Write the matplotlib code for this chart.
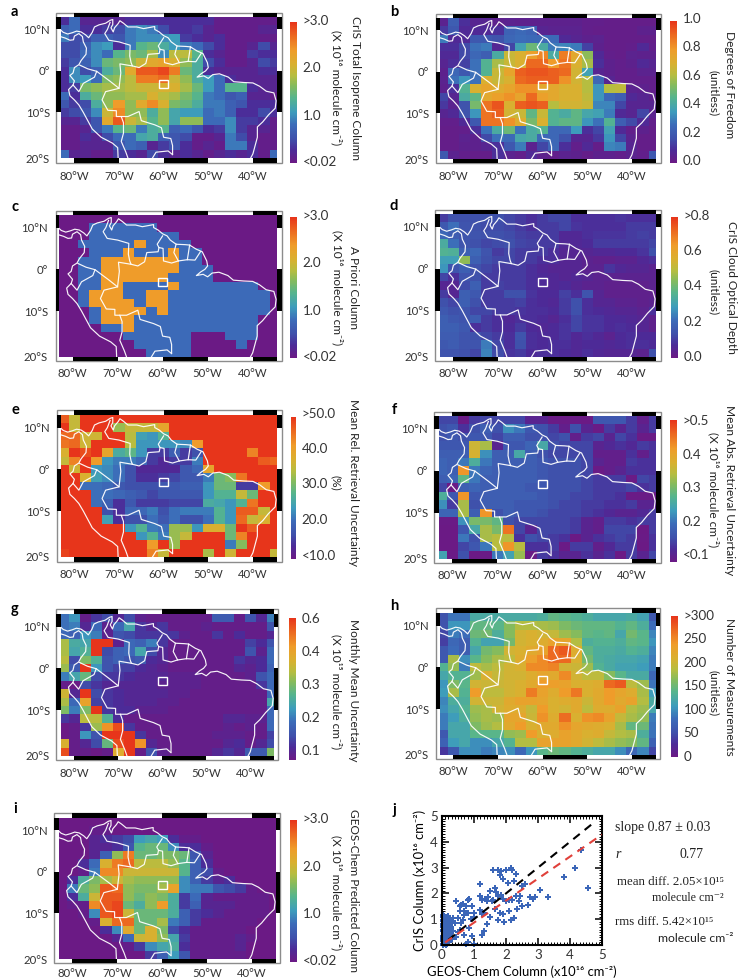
import numpy as np
import matplotlib
matplotlib.use("Agg")
import matplotlib.pyplot as plt
from matplotlib.colors import LinearSegmentedColormap, Normalize
from matplotlib.patches import Rectangle
from matplotlib.ticker import MultipleLocator
from matplotlib.transforms import ScaledTranslation

plt.rcParams['font.family'] = ['Lato', 'DejaVu Sans']
plt.rcParams['text.color'] = '#222222'

W, H = 741, 980

# ---- gridded values, north to south, west to east ----
lon_edges = -83.75 + 2.5 * np.arange(21)
lat_edges = 13 - 2.0 * np.arange(18)

panel_a = [  # 1e15 molecule cm-2
 [3,8,2,2,2,2,3,3,3,3,3,3,3,3,1,1,1,1,1,1],
 [7,8,3,3,4,5,9,10,9,5,3,3,4,2,1,1,1,1,2,2],
 [9,5,5,7,7,6,9,10,10,10,11,4,3,2,3,1,1,1,1,1],
 [5,5,7,10,11,3,9,14,15,13,11,9,8,5,3,1,1,2,5,2],
 [5,5,8,10,8,14,16,15,18,10,19,19,14,3,2,1,1,4,3,3],
 [4,6,7,10,15,16,17,20,22,23,21,17,13,5,3,1,1,2,5,4],
 [3,10,5,7,13,15,22,28,28,29,26,15,13,3,2,2,2,2,3,3],
 [3,10,11,8,16,17,19,26,26,27,20,17,13,11,8,3,2,2,2,2],
 [3,4,16,17,18,18,19,20,20,21,21,18,15,11,8,14,14,3,2,2],
 [8,3,13,15,17,17,18,18,21,19,18,16,14,9,8,6,7,2,2,1],
 [6,4,5,13,17,24,17,22,25,21,16,15,13,9,9,7,6,3,3,3],
 [4,5,6,10,20,25,17,17,13,17,12,11,11,8,9,7,3,3,5,3],
 [2,2,4,6,22,28,20,18,14,17,12,17,17,8,8,10,4,4,3,1],
 [1,1,2,6,9,14,15,9,13,14,7,8,6,3,4,10,4,2,2,1],
 [1,1,3,2,5,8,8,12,13,7,6,5,1,1,2,9,5,2,1,1],
 [1,1,2,2,2,6,8,7,2,4,6,3,1,2,1,9,9,3,1,1],
 [8,2,2,1,1,4,3,2,5,3,2,3,2,1,2,3,2,3,1,8],
]
panel_b = [  # percent of one degree of freedom
 [5,22,10,6,6,4,5,4,4,4,4,4,4,3,3,2,2,2,2,2],
 [12,20,8,8,8,10,24,26,24,6,5,5,5,3,2,2,2,2,4,4],
 [30,8,8,20,20,18,25,27,26,26,26,8,6,4,5,2,2,2,2,2],
 [10,10,16,28,30,7,15,38,50,42,30,32,30,14,4,2,2,3,8,3],
 [8,8,16,25,22,42,66,70,78,84,42,86,74,56,8,3,2,5,4,4],
 [6,10,14,28,45,60,66,70,90,90,80,88,70,60,10,4,3,4,8,6],
 [4,25,20,28,45,66,76,92,94,94,92,90,68,38,6,4,3,3,5,5],
 [5,28,35,28,70,66,70,90,92,92,92,82,68,62,25,6,3,3,3,3],
 [4,10,45,70,76,72,76,82,82,74,74,70,70,62,35,62,64,5,4,3],
 [15,6,42,48,74,78,82,76,90,78,74,70,70,64,35,25,22,8,6,4],
 [12,5,18,52,88,94,70,92,94,92,62,68,68,66,32,32,15,6,6,6],
 [6,8,18,35,88,92,68,66,48,66,45,42,48,40,38,30,8,6,15,5],
 [3,3,8,20,88,88,82,72,52,70,45,48,48,35,28,45,22,16,8,3],
 [2,2,3,10,28,42,50,28,42,45,25,25,36,10,15,38,8,3,4,2],
 [2,2,5,4,16,28,26,40,42,25,25,18,6,6,12,35,15,5,2,2],
 [2,2,4,4,6,10,20,30,5,15,25,10,3,8,2,32,30,6,2,2],
 [20,5,3,2,2,10,5,3,8,4,3,5,4,2,4,4,3,5,3,20],
]
panel_c = [  # 1e15 molecule cm-2
 [0]*20,
 [0,0,0,8,8,8,8,8,8,0,0,0,0,0,0,0,0,0,0,0],
 [0,0,0,8,8,8,8,8,8,8,8,0,0,0,0,0,0,0,0,0],
 [0,0,8,8,8,8,8,24,8,8,8,8,0,0,0,0,0,0,0,0],
 [0,0,0,8,8,8,24,8,8,8,24,8,8,0,0,0,0,0,0,0],
 [0,0,8,8,24,24,24,24,24,24,24,8,8,0,0,0,0,0,0,0],
 [0,0,8,8,24,24,24,24,24,24,24,8,8,8,0,0,0,0,0,0],
 [0,0,8,8,24,24,24,24,24,24,8,8,8,8,0,0,0,0,0,0],
 [0,0,8,8,24,24,8,8,8,8,24,8,8,8,8,8,8,8,0,0],
 [0,0,8,24,24,24,8,8,24,24,8,8,8,8,8,8,8,8,8,0],
 [0,0,8,24,24,24,24,8,24,24,8,8,8,8,8,8,8,8,8,0],
 [0,0,0,8,24,24,24,24,8,24,8,8,8,8,8,8,8,8,8,0],
 [0,0,0,8,24,24,24,8,8,8,8,8,8,8,8,8,8,8,0,0],
 [0,0,0,0,8,8,24,8,8,8,8,8,8,8,8,8,8,8,0,0],
 [0,0,0,0,0,0,8,8,8,8,8,8,0,0,0,8,8,8,0,0],
 [0,0,0,0,0,0,0,8,8,8,8,8,0,0,0,0,8,0,0,0],
 [0,0,0,0,0,0,0,0,8,8,8,8,0,0,0,0,0,0,0,0],
]
panel_d = [  # hundredths of optical depth
 [10,14,14,14,14,14,12,10,8,10,12,12,8,8,8,8,9,8,8,8],
 [16,22,15,14,13,13,12,10,8,10,10,12,9,8,8,8,8,10,10,10],
 [20,17,15,15,14,14,13,11,10,10,10,6,6,8,9,9,9,10,11,10],
 [34,22,15,14,12,13,14,12,11,10,10,6,6,7,10,10,10,10,10,12],
 [36,35,18,20,15,10,12,10,10,10,8,5,5,5,6,6,7,7,9,14],
 [30,30,45,18,14,12,12,10,10,8,8,5,5,4,3,3,4,4,6,8],
 [28,15,18,14,12,10,10,10,8,6,5,5,5,4,4,9,6,5,5,4],
 [12,8,15,14,10,10,10,10,8,7,6,5,6,5,4,4,4,4,4,4],
 [5,5,13,18,10,11,10,10,8,7,6,7,5,4,4,3,3,3,3,4],
 [10,5,18,16,10,10,14,14,9,7,7,11,8,15,5,3,3,3,3,3],
 [14,12,18,14,10,10,10,11,8,7,6,10,14,8,5,5,4,4,3,4],
 [16,14,15,12,12,10,10,9,8,8,7,10,14,8,7,6,5,5,4,8],
 [18,16,15,17,10,8,6,8,8,7,5,8,12,9,9,7,7,6,5,3],
 [18,18,16,8,10,8,7,10,7,6,7,9,12,9,9,7,8,7,5,3],
 [17,17,15,14,12,10,8,15,8,7,7,9,6,8,6,4,7,8,7,7],
 [16,17,15,15,24,12,8,14,8,7,8,8,6,7,7,6,7,8,8,7],
 [15,15,14,12,25,13,9,10,7,8,8,7,6,8,6,5,5,5,4,14],
]
panel_e = [  # percent
 [47,36,50,50,50,50,50,50,50,50,50,50,50,50,50,50,50,50,50,50],
 [50,36,50,50,50,33,36,36,36,40,50,50,50,50,50,50,50,50,50,50],
 [46,46,37,37,50,50,35,25,24,28,50,50,50,50,50,50,50,50,50,50],
 [45,46,37,50,50,50,35,24,24,24,24,23,42,50,50,50,50,50,50,50],
 [38,50,48,50,40,27,29,24,15,15,19,15,17,50,50,50,50,44,50,50],
 [36,44,50,42,24,22,22,20,15,13,15,15,22,50,50,50,50,50,47,46],
 [50,37,50,24,23,21,17,13,13,13,13,18,20,40,50,50,50,50,50,50],
 [50,50,38,25,23,21,17,14,14,15,16,18,18,22,30,32,45,50,50,50],
 [50,50,21,21,20,18,17,17,17,18,18,19,19,24,30,30,15,15,42,50],
 [50,50,50,21,21,20,19,18,16,18,18,18,18,24,28,28,36,30,50,50],
 [50,50,50,21,19,14,18,15,15,15,16,16,16,27,26,24,28,45,50,50],
 [50,50,50,50,17,14,20,20,22,17,21,22,22,22,28,24,47,47,36,50],
 [50,50,50,50,25,14,17,17,21,18,21,17,17,21,28,24,46,36,38,50],
 [50,50,50,50,50,50,24,28,22,21,33,33,24,38,38,30,50,47,50,50],
 [50,50,50,50,50,50,50,24,28,22,33,36,50,50,50,30,44,50,50,50],
 [50,50,50,50,50,50,50,50,42,50,33,50,50,50,50,22,32,50,50,50],
 [49,50,50,50,50,50,50,50,44,36,50,50,50,34,50,37,50,50,50,36],
]
panel_f = [  # 1e14 molecule cm-2
 [14,14,8,13,14,14,14,14,10,10,8,8,8,7,16,16,16,13,9,13],
 [15,16,12,15,17,15,22,20,16,15,13,9,15,10,8,13,10,13,10,13],
 [15,16,15,16,16,14,17,17,15,15,14,15,9,13,14,10,14,12,8,8],
 [16,16,16,36,33,10,16,16,18,25,15,14,14,14,10,11,12,11,13,12],
 [17,17,17,37,22,17,17,25,17,15,14,14,14,14,9,9,9,12,9,12],
 [18,17,20,26,20,17,17,17,17,16,15,15,15,14,10,9,9,13,12,12],
 [18,17,42,20,18,17,17,17,17,16,15,15,15,14,8,9,10,12,12,12],
 [17,18,28,20,17,17,17,17,17,16,15,15,15,14,13,13,13,8,14,13],
 [14,3,17,18,17,17,17,17,16,16,15,15,15,14,13,13,13,14,12,13],
 [26,16,42,16,17,17,17,17,17,16,15,15,14,14,13,13,12,8,8,8],
 [22,13,33,15,17,17,17,16,16,16,15,14,14,13,13,12,12,13,10,10],
 [18,18,33,17,42,15,17,16,16,15,14,14,14,13,12,11,10,10,11,13],
 [8,8,22,30,30,28,15,14,14,14,14,14,13,10,9,13,13,12,13,13],
 [5,7,16,25,33,30,45,14,10,14,14,14,13,10,9,14,14,14,7,13],
 [5,6,20,15,33,34,34,12,15,14,13,12,7,10,12,13,14,13,8,12],
 [7,7,14,16,20,34,42,34,12,12,13,8,13,13,9,11,13,13,6,12],
 [24,8,15,7,8,20,24,32,8,13,12,10,10,12,10,12,7,13,10,14],
]
panel_g = [  # 1e13 molecule cm-2
 [19,22,8,12,14,10,14,9,8,8,8,8,8,8,16,16,8,15,10,20],
 [19,20,10,18,9,18,24,12,10,12,8,8,8,9,8,8,8,8,8,15],
 [18,17,22,20,9,15,14,12,12,12,12,9,8,8,12,8,11,8,8,10],
 [33,25,24,54,54,9,18,17,20,12,8,8,8,8,8,8,8,13,11,15],
 [33,24,26,50,14,17,18,24,14,10,8,8,8,8,8,8,8,15,9,18],
 [34,14,30,26,15,17,15,16,11,10,8,8,8,8,8,8,12,10,11,18],
 [32,16,52,22,15,13,13,11,10,9,8,8,8,8,8,8,10,9,11,17],
 [20,24,28,14,12,12,11,10,10,10,9,9,9,8,8,8,8,9,15,18],
 [8,5,14,12,10,10,10,10,10,9,9,9,9,8,8,8,8,8,12,18],
 [36,10,50,14,12,11,10,10,10,10,9,9,8,8,8,8,8,8,8,18],
 [33,18,40,13,12,11,10,10,10,9,9,8,8,8,8,8,8,8,8,24],
 [30,20,30,50,12,11,11,9,9,9,8,8,8,8,8,8,8,8,8,18],
 [12,10,34,34,26,11,8,8,8,8,8,8,8,8,8,10,10,9,9,18],
 [7,8,12,32,42,48,12,8,8,8,8,8,8,8,8,9,8,9,8,18],
 [7,8,22,15,50,50,52,12,8,8,8,8,8,8,9,9,9,8,8,13],
 [37,8,10,14,28,48,52,42,10,8,8,8,8,8,8,10,11,8,10,14],
 [48,8,8,6,8,38,50,8,15,9,8,8,8,8,10,12,10,16,16,30],
]
panel_h = [  # count
 [55,85,85,125,125,125,125,125,125,130,145,140,135,130,120,120,120,125,115,60],
 [55,105,105,145,145,140,165,185,185,180,175,160,150,145,145,145,135,145,130,80],
 [45,90,80,150,155,130,165,205,210,205,195,175,165,145,140,145,120,155,140,95],
 [40,75,65,135,115,115,155,205,210,215,230,225,185,130,135,135,130,145,140,105],
 [60,80,65,120,155,165,205,210,220,230,270,280,215,145,130,130,125,135,130,95],
 [60,180,100,140,165,180,190,215,235,250,270,270,210,155,130,125,120,120,115,90],
 [135,170,90,190,180,190,205,210,250,250,255,205,200,175,135,125,115,115,110,90],
 [120,135,135,175,210,195,205,205,215,225,220,250,205,190,190,165,140,125,125,75],
 [105,160,140,205,200,200,205,210,220,240,235,230,210,210,215,270,278,190,175,85],
 [110,180,135,240,190,190,205,210,260,230,215,240,262,210,220,240,225,215,180,110],
 [95,130,130,205,200,200,220,230,230,225,210,215,220,200,220,240,220,230,185,125],
 [100,120,135,175,180,205,215,215,195,240,210,205,220,190,215,215,230,185,175,120],
 [90,110,130,170,180,175,225,225,200,245,215,268,210,245,250,230,195,180,170,90],
 [90,120,120,160,175,185,220,240,210,220,220,245,225,220,215,210,180,145,150,85],
 [60,120,120,140,140,140,170,175,240,210,215,230,220,210,215,195,185,180,130,85],
 [70,110,120,100,100,120,135,185,185,230,230,230,220,205,190,180,170,165,145,70],
 [35,60,100,100,90,95,100,75,105,140,150,145,135,130,120,120,100,75,95,45],
]
panel_i = [  # 1e15 molecule cm-2
 [0]*20,
 [0,0,0,1,1,0,0,0,0,0,0,0,0,0,0,0,0,0,0,0],
 [0,0,0,2,3,4,5,11,12,11,3,1,1,0,0,0,0,0,0,0],
 [0,0,0,2,2,3,6,14,15,15,10,3,3,1,0,0,0,0,0,0],
 [0,0,0,2,7,17,26,15,15,16,16,15,6,2,0,0,0,0,0,0],
 [0,0,3,8,21,26,27,19,19,19,17,14,7,3,0,0,0,0,0,0],
 [0,0,1,9,25,25,20,20,20,20,20,14,7,5,1,0,0,0,0,0],
 [0,3,13,16,18,20,18,17,17,17,17,10,7,4,2,3,0,0,0,0],
 [0,9,15,17,28,27,17,16,16,18,23,10,9,9,6,5,4,1,0,0],
 [0,3,13,20,28,28,17,15,17,16,13,4,8,2,1,1,1,1,1,0],
 [0,1,1,25,28,29,15,13,17,24,13,4,7,2,2,2,1,1,1,0],
 [0,0,1,10,28,29,20,15,15,15,13,7,4,3,2,1,1,1,1,0],
 [0,0,0,1,21,27,27,15,15,18,9,7,4,1,1,1,1,1,0,0],
 [0,0,0,0,3,10,22,15,21,16,5,3,1,1,1,1,1,0,0,0],
 [0,0,0,0,0,2,8,20,21,17,12,4,1,1,1,1,2,1,0,0],
 [0,0,0,0,0,0,1,4,10,12,13,3,1,1,1,1,2,0,0,0],
 [0,0,0,0,0,0,0,0,4,7,11,6,1,1,1,1,1,0,0,0],
]

# ---- scatter values (panel j) ----
scatter_x = [4.55,4.15,3.8,4.35,3.3,3.05,2.9,2.85,2.75,2.7,2.6,2.5,2.45,2.4,2.5,2.35,2.25,2.15,2.2,2.3,
 2.0,2.05,1.9,1.85,1.8,1.75,1.6,1.65,1.7,1.75,1.85,1.9,2.0,2.1,2.2,2.3,1.5,1.45,1.4,1.35,
 1.25,1.2,1.2,1.55,1.6,1.65,1.8,1.9,1.75,1.95,2.15,2.25,2.1,1.5,1.4,1.3,1.25,1.2,1.3,1.25,
 0.95,1.0,0.9,0.85,0.8,0.75,0.7,0.8,0.7,1.0,0.65,0.6,0.55,0.45,0.55,0.5,0.65,0.6,0.55,0.5,
 0.4,0.45,0.7,0.75,0.8,1.0,0.95,0.85,0.3,0.35,
 0.02,0.05,0.08,0.12,0.15,0.18,0.22,0.26,0.3,0.03,0.06,0.1,0.14,0.17,0.2,0.24,0.28,0.02,0.05,0.09,
 0.12,0.16,0.19,0.23,0.27,0.03,0.07,0.11,0.15,0.2,0.25,0.02,0.06,0.1,0.13,0.18,0.22,0.04,0.08,0.12,
 0.16,0.21,0.03,0.07,0.11,0.15,0.19,0.02,0.05,0.09,0.13,0.17,0.04,0.08,0.12,0.02,0.06,0.1,0.03,0.07,
 0.02,0.05,0.1,0.16,0.22,0.28,0.34,0.02,0.12,
 0.04,0.09,0.14,0.19,0.24,0.04,0.09,0.14,0.19,0.24,0.04,0.09,0.14,0.19,0.04,0.09,0.14,0.19,0.04,0.09,0.14]
scatter_y = [2.2,3.0,2.65,3.7,1.85,2.15,1.85,1.8,1.85,1.55,2.35,2.3,1.9,1.7,1.5,1.4,2.5,3.0,2.9,2.75,
 2.9,2.4,2.55,2.85,2.7,2.9,2.9,2.2,2.05,1.9,1.95,1.8,1.7,1.75,1.75,1.9,2.1,1.85,1.7,1.8,
 1.75,1.9,2.35,1.7,1.75,1.4,1.25,1.2,0.95,0.9,0.95,1.05,1.3,1.1,0.8,1.25,1.2,1.35,0.55,0.4,
 1.5,1.25,1.0,1.8,1.75,1.5,1.3,1.25,1.15,1.1,1.6,1.55,1.5,1.7,1.3,1.05,0.95,0.85,0.6,0.5,
 0.85,0.3,0.4,0.05,0.1,0.05,0.35,0.65,0.25,0.55,
 0.05,0.12,0.2,0.08,0.15,0.28,0.1,0.18,0.3,0.35,0.42,0.3,0.25,0.4,0.36,0.45,0.5,0.55,0.5,0.48,
 0.58,0.52,0.6,0.62,0.7,0.68,0.72,0.66,0.75,0.8,0.78,0.82,0.85,0.78,0.88,0.7,0.95,0.95,0.92,1.02,
 0.98,1.05,1.08,1.12,1.1,1.0,1.14,0.02,0.08,0.02,0.16,0.04,0.22,0.28,0.35,0.6,0.65,0.38,0.75,0.88,
 1.15,1.0,0.18,0.48,0.66,0.88,1.05,0.0,0.0,
 0.15,0.22,0.33,0.12,0.2,0.55,0.62,0.45,0.52,0.4,0.78,0.86,0.7,0.62,0.92,1.02,0.9,0.82,0.3,0.38,0.5]
one_to_one = ([0.2, 4.75], [0.2, 4.75])
fit_line = ([0.1, 5.0], [0.1, 4.28])

# ---- basemap, lon/lat ----
coast_north = [(-83.2,10.0),(-82.5,9.3),(-81.5,8.9),(-80.5,9.2),(-79.5,9.6),(-78.5,9.4),(-77.5,8.7),(-76.8,8.0),
 (-76,9.3),(-75.5,10.6),(-74.5,11.1),(-73,11.5),(-72,12.2),(-71.4,12.4),(-71.4,11.2),(-71.8,10.4),(-71.3,9.4),
 (-71,10.4),(-70.2,11.4),(-69.8,12.1),(-69,11.5),(-68,10.6),(-66,10.6),(-64.5,10.2),(-62,10.7),(-62,10),(-61,9.4),
 (-60,8.5),(-59,8),(-58.3,7),(-57,6),(-55,5.9),(-54,5.8),(-52.5,4.8),(-51.2,4.2),(-50.2,2),(-50,0.8),(-50.6,0),
 (-51.5,-0.6),(-52.5,-1.5),(-51,-1.2),(-50,-1.8),(-49,-0.9),(-47.5,-0.7),(-45.5,-1.5),(-44.3,-2.6),(-42,-2.8),
 (-40,-2.9),(-38.5,-3.7),(-37,-4.9),(-35.3,-5.3),(-34.8,-7.2),(-35,-9),(-36.5,-10.6),(-37.8,-12.3),(-39,-13.5),
 (-39,-16),(-39.5,-18),(-40,-20),(-40.5,-21)]
coast_west = [(-83.2,8.3),(-82,7.9),(-81,7.4),(-80.2,7.5),(-80,8.4),(-79,9),(-78.2,8.3),(-78,7),(-77.3,5.5),(-77.4,4),
 (-78.5,2.5),(-79,1.5),(-80,0.8),(-80.3,-0.5),(-81,-1.1),(-80,-2.4),(-80.3,-3.4),(-81.3,-4.5),(-81,-6),(-80,-7),
 (-79,-8.2),(-78,-10),(-77,-12),(-76,-14),(-74,-16),(-71.5,-17.4),(-70.3,-18.5),(-70.2,-21)]
borders = [
 [(-72,11.7),(-72.6,10),(-73.2,9),(-72.3,7.4),(-70,7),(-67.5,6.2),(-67.6,3.6),(-67.3,2),(-67,1.2),(-69.8,1.7),
  (-69.6,-0.5),(-70,-4.2),(-72,-2.5),(-75,-0.1),(-77,0.5),(-78.8,1.4)],
 [(-75,-0.1),(-75.5,-1.5),(-78,-3),(-79,-5),(-80.3,-3.4)],
 [(-70,-4.2),(-73,-5),(-73.8,-7),(-72.5,-9.5),(-70.6,-9.6),(-70.6,-11),(-69.5,-11),(-69,-12.5),(-69,-15),(-69.5,-17),(-68.5,-19.5),(-68,-21)],
 [(-69.5,-11),(-68,-11),(-65.5,-9.8),(-65,-12),(-62,-13),(-60.5,-13.7),(-60,-16),(-58.4,-16.3),(-58,-18),(-58,-20)],
 [(-62.5,-21),(-61.7,-19.6),(-59,-19.3),(-58,-20.2)],
 [(-67,1.2),(-65.5,0.8),(-64,1.8),(-63.5,4),(-61,4.2),(-60.8,5.2),(-61.2,6),(-60,8)],
 [(-60.8,5.2),(-59.9,5),(-59.8,2),(-58,1.5),(-56.5,2),(-54.5,2.3),(-52.8,2.2),(-51.6,4.2)],
 [(-56.5,2),(-57.5,4),(-57,6)],
 [(-54.5,2.3),(-54,5.8)],
]
site_box = (-61.0, -4.1, 2.0, 1.9)

lon_ticks = [-80,-70,-60,-50,-40]
lon_labels = ['80°W','70°W','60°W','50°W','40°W']
lat_ticks = [10,0,-10,-20]
lat_labels = ['10°N','0°','10°S','20°S']

cmap = LinearSegmentedColormap.from_list('iso', [
 (0.00,'#6b1a85'),(0.09,'#4c2b98'),(0.17,'#3f50ab'),(0.27,'#3c6cb9'),(0.36,'#3d9cbc'),(0.46,'#55b48e'),
 (0.55,'#86bb5c'),(0.62,'#b6bd40'),(0.70,'#d9b030'),(0.80,'#ef9c2a'),(0.90,'#ec6a20'),(1.00,'#e7351b')])

panels = [
 dict(tag='a',data=panel_a,scale=.1,vmin=.02,vmax=3,ticks=[3,2,1,.02],labels=['>3.0','2.0','1.0','<0.02'],
      title='CrIS Total Isoprene Column',sub='(X 10¹⁶ molecule cm⁻²)',
      frame=(56,13,282,163),img=(61,17,277,158),bar=(290,22,297,163),dy=2,xpad=9.5,
      tpos=(355,88),spos=(337,88),tag_xy=(14,12)),
 dict(tag='b',data=panel_b,scale=.01,vmin=0,vmax=1,ticks=[1,.8,.6,.4,.2,0],labels=['1.0','0.8','0.6','0.4','0.2','0.0'],
      title='Degrees of Freedom',sub='(unitless)',
      frame=(436,14,661,163),img=(440,18,656,159),bar=(670,21,677,163),dy=3,xpad=8.5,
      tpos=(730,85),spos=(714,93),tag_xy=(394,12)),
 dict(tag='c',data=panel_c,scale=.1,vmin=.02,vmax=3,ticks=[3,2,1,.02],labels=['>3.0','2.0','1.0','<0.02'],
      title='A Priori Column',sub='(X 10¹⁶ molecule cm⁻²)',
      frame=(56,211,282,361),img=(59,215,277,357),bar=(290,217,297,358),dy=2,xpad=8,
      tpos=(353,287),spos=(338,288),tag_xy=(15,207)),
 dict(tag='d',data=panel_d,scale=.01,vmin=0,vmax=.8,ticks=[.8,.6,.4,.2,0],labels=['>0.8','0.6','0.4','0.2','0.0'],
      title='CrIS Cloud Optical Depth',sub='(unitless)',
      frame=(435,210,661,361),img=(440,214,656,357),bar=(671,217,678,358),dy=2,xpad=8,
      tpos=(731,287),spos=(714,292),tag_xy=(394,206)),
 dict(tag='e',data=panel_e,scale=1,vmin=10,vmax=50,ticks=[50,40,30,20,10],labels=['>50.0','40.0','30.0','20.0','<10.0'],
      title='Mean Rel. Retrieval Uncertainty',sub='(%)',
      frame=(57,410,282,562),img=(61,415,277,557),bar=(291,417,296,559),dy=4.5,xpad=8.5,
      tpos=(353,482),spos=(336,483),tag_xy=(15,410)),
 dict(tag='f',data=panel_f,scale=.01,vmin=.077,vmax=.5,ticks=[.5,.4,.3,.2,.1],labels=['>0.5','0.4','0.3','0.2','<0.1'],
      title='Mean Abs. Retrieval Uncertainty',sub='(X 10¹⁶ molecule cm⁻²)',
      frame=(434,412,661,563),img=(439,416,656,559),bar=(670,420,677,562),dy=0,xpad=8,
      tpos=(730,490),spos=(714,490),tag_xy=(394,410)),
 dict(tag='g',data=panel_g,scale=.01,vmin=.07,vmax=.5,ticks=[.5,.4,.3,.2,.1],labels=['0.6','0.4','0.3','0.2','0.1'],
      title='Monthly Mean Uncertainty',sub='(X 10¹⁵ molecule cm⁻²)',
      frame=(56,609,278,760),img=(61,614,274,756),bar=(289,618,296,760),dy=0,xpad=8.5,
      tpos=(353,690),spos=(337,692),tag_xy=(15,609)),
 dict(tag='h',data=panel_h,scale=1,vmin=0,vmax=300,ticks=[300,250,200,150,100,50,0],labels=['>300','250','200','150','100','50','0'],
      title='Number of Measurements',sub='(unitless)',
      frame=(436,608,660,759),img=(440,613,656,755),bar=(671,616,678,757),dy=1.5,xpad=8,
      tpos=(730,687),spos=(714,693),tag_xy=(394,606)),
 dict(tag='i',data=panel_i,scale=.1,vmin=.02,vmax=3,ticks=[3,2,1,.02],labels=['>3.0','2.0','1.0','<0.02'],
      title='GEOS-Chem Predicted Column',sub='(X 10¹⁶ molecule cm⁻²)',
      frame=(54,813,280,963),img=(59,818,276,959),bar=(290,820,297,962),dy=2,xpad=6.5,
      tpos=(353,890),spos=(337,893),tag_xy=(15,809)),
]

fig = plt.figure(figsize=(W/100, H/100), dpi=100, facecolor='white')

def axes_px(l, t, r, b, **kw):
    return fig.add_axes([l/W, 1-b/H, (r-l)/W, (b-t)/H], **kw)

def draw_frame(ax, img, frame):
    x0, x1 = ax.get_xlim(); y0, y1 = ax.get_ylim()
    sx = (img[2]-img[0])/(x1-x0); sy = (img[3]-img[1])/(y1-y0)
    fl = x0-(img[0]-frame[0])/sx; fr = x1+(frame[2]-img[2])/sx
    ft = y1+(img[1]-frame[1])/sy; fb = y0-(frame[3]-img[3])/sy
    ax.add_patch(Rectangle((fl,fb),fr-fl,ft-fb,fc='white',ec='#8c8c8c',lw=1.0,clip_on=False,zorder=-5))
    for a,b in [(-80,-70),(-60,-50),(-40,x1)]:
        for yy,hh in [(y1,ft-y1),(fb,y0-fb)]:
            ax.add_patch(Rectangle((a,yy),b-a,hh,fc='black',ec='none',clip_on=False,zorder=6))
    for a,b in [(10,y1),(-10,0)]:
        for xx,ww in [(fl,x0-fl),(x1,fr-x1)]:
            ax.add_patch(Rectangle((xx,a),ww,b-a,fc='black',ec='none',clip_on=False,zorder=6))

for p in panels:
    ax = axes_px(*p['img'])
    vals = np.array(p['data'], dtype=float)*p['scale']
    norm = Normalize(p['vmin'], p['vmax'])
    mesh = ax.pcolormesh(lon_edges, lat_edges, vals, cmap=cmap, norm=norm, shading='flat', zorder=1)
    for line in [coast_north, coast_west]+borders:
        xs, ys = zip(*line)
        ax.plot(xs, ys, color='white', lw=0.85, alpha=.95, zorder=3, solid_joinstyle='round')
    ax.add_patch(Rectangle(site_box[:2], site_box[2], site_box[3], fc='none', ec='white', lw=1.0, zorder=4))
    ax.set_xlim(-83, -34.6); ax.set_ylim(-21, 13)
    for s in ax.spines.values():
        s.set_visible(False)
    ax.set_xticks(lon_ticks, lon_labels)
    ax.set_yticks(lat_ticks, lat_labels)
    ax.tick_params(axis='x', length=0, pad=p['xpad'], labelsize=8.2, labelcolor='#333333')
    ax.tick_params(axis='y', length=0, pad=8, labelsize=8.2, labelcolor='#333333')
    last = ax.get_yticklabels()[-1]
    last.set_transform(last.get_transform()+ScaledTranslation(0,-3/72,fig.dpi_scale_trans))
    draw_frame(ax, p['img'], p['frame'])

    cax = axes_px(*p['bar'])
    cb = fig.colorbar(mesh, cax=cax)
    cb.outline.set_visible(False)
    cb.set_ticks(p['ticks'], labels=p['labels'])
    cax.tick_params(length=0, pad=4, labelsize=9.6, labelcolor='#333333')
    for lb in cax.get_yticklabels():
        lb.set_transform(lb.get_transform()+ScaledTranslation(0,p['dy']*.72/72,fig.dpi_scale_trans))

    fig.text(p['tpos'][0]/W, 1-p['tpos'][1]/H, p['title'], rotation=270, ha='center', va='center', fontsize=8.6)
    fig.text(p['spos'][0]/W, 1-p['spos'][1]/H, p['sub'], rotation=270, ha='center', va='center', fontsize=8.6)
    fig.text(p['tag_xy'][0]/W, 1-p['tag_xy'][1]/H, p['tag'], ha='center', va='center', fontsize=10.5, fontweight='bold', color='black')

# ---- panel j ----
ax = axes_px(442, 816, 602, 945)
ax.plot(*one_to_one, color='black', ls=(0,(4,3)), lw=1.5, zorder=3)
ax.scatter(scatter_x, scatter_y, marker='P', s=24, color='#3b66b8', linewidths=0, zorder=2, clip_on=False)
ax.plot(*fit_line, color='#e0403a', ls=(0,(4,3)), lw=1.5, zorder=4)
ax.set_xlim(0, 5); ax.set_ylim(0, 5)
ax.set_xticks(range(6)); ax.set_yticks(range(6))
ax.xaxis.set_minor_locator(MultipleLocator(.1)); ax.yaxis.set_minor_locator(MultipleLocator(.1))
ax.tick_params(which='major', direction='in', top=True, right=True, length=5, width=1.1, labelsize=9.6, pad=3, labelcolor='#333333')
ax.tick_params(which='minor', direction='in', top=True, right=True, length=2.5, width=.7)
for s in ax.spines.values():
    s.set_linewidth(1.5)
ax.set_xlabel('GEOS-Chem Column (x10¹⁶ cm⁻²)', fontsize=9.4, labelpad=3)
ax.set_ylabel('CrIS Column (x10¹⁶ cm⁻²)', fontsize=9.4, labelpad=3)
fig.text(394/W, 1-810/H, 'j', ha='center', va='center', fontsize=10.5, fontweight='bold', color='black')

serif = ['Liberation Serif','DejaVu Serif']
def stat(x, y, s, **kw):
    fig.text(x/W, 1-y/H, s, va='center', **kw)
stat(615, 827, 'slope 0.87 ± 0.03', family=serif, fontsize=10)
stat(615, 854, 'r', family=serif, style='italic', fontsize=10)
stat(680, 854, '0.77', family=serif, fontsize=10)
stat(617, 882, 'mean diff. 2.05×10¹⁵', family=serif, fontsize=9.3)
stat(652, 898, 'molecule cm⁻²', family=serif, fontsize=8.6)
stat(615, 922, 'rms diff. 5.42×10¹⁵', family=serif, fontsize=9.3)
stat(658, 938, 'molecule cm⁻²', fontsize=8.8)

fig.savefig('out.png', dpi=100)
